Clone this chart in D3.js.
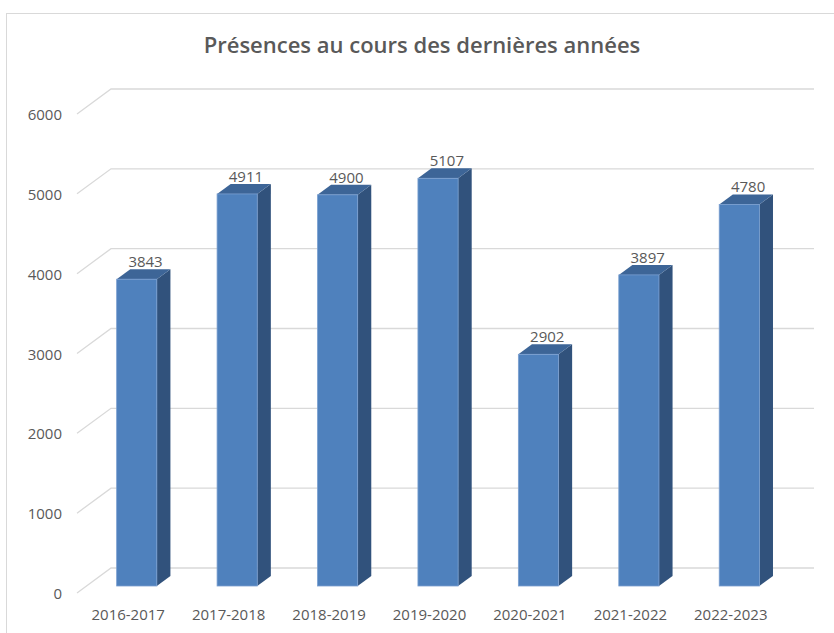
<!DOCTYPE html>
<html>
<head>
<meta charset="utf-8">
<script src="https://cdn.jsdelivr.net/npm/d3@7"></script>
<style>
  html, body { margin: 0; padding: 0; background: #fff; }
  svg { display: block; }
  text { font-family: "Open Sans", sans-serif; fill: #595959; }
</style>
</head>
<body>
<svg id="chart" width="834" height="633"></svg>
<script>
const categories = ["2016-2017", "2017-2018", "2018-2019", "2019-2020", "2020-2021", "2021-2022", "2022-2023"];
const values = [3843, 4911, 4900, 5107, 2902, 3897, 4780];
const yTicks = [0, 1000, 2000, 3000, 4000, 5000, 6000];
const title = "Présences au cours des dernières années";

const W = 834, H = 633;
const svg = d3.select("#chart");

// 3D projection parameters
const depthDX = 34, depthDY = -25;   // full depth offset of the chart box
const barZ0 = 0.28, barZ1 = 0.68;     // bar depth positions (fraction of box depth)

const x = d3.scaleBand().domain(categories).range([77, 780]).paddingInner(0.6).paddingOuter(0.3);
const y = d3.scaleLinear().domain([0, 6000]).range([593, 114]);

const px = (xv, z) => xv + z * depthDX;
const py = (v, z) => y(v) + z * depthDY;

// outer border
svg.append("rect")
  .attr("x", 6.5).attr("y", 13.5).attr("width", W + 20).attr("height", H + 20)
  .attr("fill", "none").attr("stroke", "#d9d9d9").attr("stroke-width", 1);

// title
svg.append("text")
  .attr("x", 422).attr("y", 53)
  .attr("text-anchor", "middle")
  .attr("font-size", 22).attr("font-weight", 600)
  .text(title);

// gridlines (back wall + side diagonal)
const x0 = x.range()[0], x1 = x.range()[1];
const grid = svg.append("g").attr("stroke", "#d9d9d9").attr("stroke-width", 1.3).attr("fill", "none");
yTicks.forEach(t => {
  grid.append("path").attr("d", d3.line()([
    [px(x0, 0) , py(t, 0)],
    [px(x0, 1), py(t, 1)],
    [px(x1, 1), py(t, 1)]
  ]));
});

// y tick labels
svg.append("g").selectAll("text").data(yTicks).join("text")
  .attr("x", 62).attr("y", d => y(d) + 2)
  .attr("text-anchor", "end").attr("dominant-baseline", "middle")
  .attr("font-size", 15)
  .text(d => d);

// category labels
svg.append("g").selectAll("text").data(categories).join("text")
  .attr("x", d => x(d) + x.bandwidth() / 2 + 1)
  .attr("y", 620)
  .attr("text-anchor", "middle")
  .attr("font-size", 15)
  .text(d => d);

// bars
const bw = x.bandwidth();
const bars = svg.append("g").selectAll("g").data(categories.map((c, i) => ({c, v: values[i]}))).join("g");

// side face
bars.append("path")
  .attr("fill", "#31527c")
  .attr("d", d => {
    const xl = x(d.c) + bw;
    return d3.line()([
      [px(xl, barZ0), py(0, barZ0)],
      [px(xl, barZ1), py(0, barZ1)],
      [px(xl, barZ1), py(d.v, barZ1)],
      [px(xl, barZ0), py(d.v, barZ0)]
    ]) + "Z";
  });
// top face
bars.append("path")
  .attr("fill", "#3d6597")
  .attr("d", d => {
    const xl = x(d.c), xr = x(d.c) + bw;
    return d3.line()([
      [px(xl, barZ0), py(d.v, barZ0)],
      [px(xr, barZ0), py(d.v, barZ0)],
      [px(xr, barZ1), py(d.v, barZ1)],
      [px(xl, barZ1), py(d.v, barZ1)]
    ]) + "Z";
  });
// front face
bars.append("rect")
  .attr("fill", "#4f81bd")
  .attr("stroke", "#7a9fd0").attr("stroke-width", 0.8)
  .attr("x", d => px(x(d.c), barZ0))
  .attr("y", d => py(d.v, barZ0))
  .attr("width", bw)
  .attr("height", d => py(0, barZ0) - py(d.v, barZ0));

// data labels
bars.append("text")
  .attr("x", d => px(x(d.c), barZ0) + (bw + (barZ1 - barZ0) * depthDX) / 2 + 2)
  .attr("y", d => py(d.v, barZ1) - 2)
  .attr("text-anchor", "middle")
  .attr("font-size", 15)
  .text(d => d.v);
</script>
</body>
</html>
